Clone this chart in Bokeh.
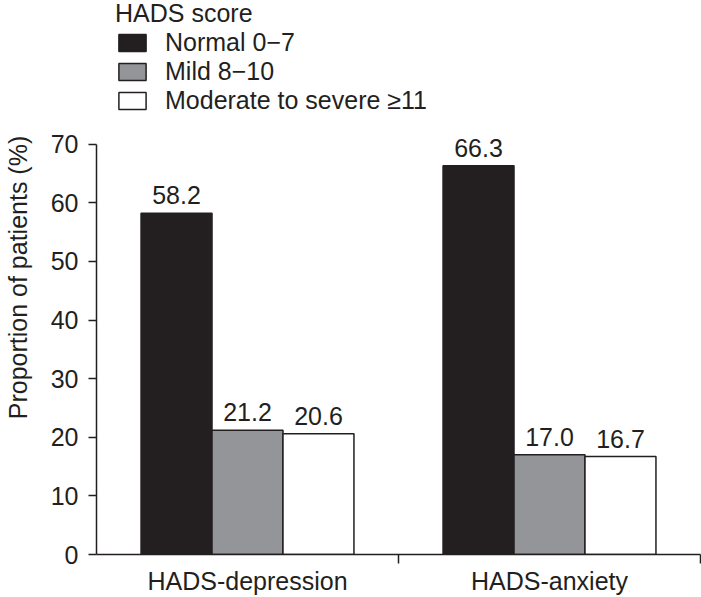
from bokeh.plotting import figure
from bokeh.models import (ColumnDataSource, Range1d, LinearAxis, FixedTicker, Legend,
                          LegendItem, LabelSet)
from bokeh.transform import dodge
from bokeh.core.properties import value
from bokeh.embed import file_html
from bokeh.resources import INLINE

# ---- data ----
categories = ["HADS-depression", "HADS-anxiety"]
normal = [58.2, 66.3]
mild = [21.2, 17.0]
severe = [20.6, 16.7]
series_labels = ["Normal 0\u22127", "Mild 8\u221210", "Moderate to severe \u226511"]
legend_title = "HADS score"
y_label = "Proportion of patients (%)"
y_ticks = [0, 10, 20, 30, 40, 50, 60, 70]

FONT = "Liberation Sans"
FS = "25px"
DARK = "#231f20"
fills = ["#231f20", "#939598", "#ffffff"]
W = 0.235

n = len(categories)
centers = [i + 0.5 for i in range(n)]   # category slot centres on the axis scale

src = ColumnDataSource(dict(
    x=centers,
    cat=categories,
    normal=normal, mild=mild, severe=severe,
    normal_t=[f"{v:.1f}" for v in normal],
    mild_t=[f"{v:.1f}" for v in mild],
    severe_t=[f"{v:.1f}" for v in severe],
))

p = figure(x_range=Range1d(0, n), y_range=Range1d(0, 94.5),
           width=701, height=597, output_backend="svg", toolbar_location=None,
           x_axis_type=None, min_border_left=93, min_border_right=1,
           min_border_top=0, min_border_bottom=42)
p.outline_line_color = None
p.grid.visible = False
p.background_fill_color = "white"
p.border_fill_color = "white"

xaxis = LinearAxis(ticker=FixedTicker(ticks=centers,
                                      minor_ticks=[i + 1 for i in range(n)]),
                   major_label_overrides={c: lab for c, lab in zip(centers, categories)})
xaxis.major_tick_out = 0
xaxis.major_tick_in = 0
xaxis.minor_tick_out = 9
xaxis.minor_tick_in = 0
xaxis.minor_tick_line_color = DARK
xaxis.minor_tick_line_width = 1.5
xaxis.axis_line_color = DARK
xaxis.axis_line_width = 1.5
xaxis.major_label_text_font = FONT
xaxis.major_label_text_font_size = FS
xaxis.major_label_text_color = DARK
xaxis.major_label_standoff = 3
p.add_layout(xaxis, "below")

ya = p.yaxis[0]
ya.ticker = FixedTicker(ticks=y_ticks)
ya.bounds = (0, 70)
ya.major_tick_out = 8
ya.major_tick_in = 0
ya.minor_tick_line_color = None
ya.major_tick_line_color = DARK
ya.major_tick_line_width = 1.5
ya.axis_line_color = DARK
ya.axis_line_width = 1.5
ya.major_label_text_font = FONT
ya.major_label_text_font_size = FS
ya.major_label_text_color = DARK
ya.major_label_standoff = 10
ya.axis_label = y_label
ya.axis_label_text_font = FONT
ya.axis_label_text_font_size = FS
ya.axis_label_text_font_style = "normal"
ya.axis_label_text_color = DARK
ya.axis_label_standoff = 16

renderers = []
for off, col, fill, tcol in [(-W, "normal", fills[0], "normal_t"),
                             (0.0, "mild", fills[1], "mild_t"),
                             (W, "severe", fills[2], "severe_t")]:
    r = p.vbar(x=dodge("x", off), top=col, width=W, bottom=0,
               source=src, fill_color=fill, line_color=DARK, line_width=1.5)
    renderers.append(r)
    lbl = LabelSet(x=dodge("x", off), y=col, text=tcol, source=src,
                   text_align="center", text_baseline="alphabetic", y_offset=9,
                   text_font=value(FONT), text_font_size=FS, text_color=DARK)
    p.add_layout(lbl)

legend = Legend(items=[LegendItem(label=lab, renderers=[r]) for lab, r in zip(series_labels, renderers)],
                title=legend_title, location=(19, 439))
legend.padding = 0
legend.margin = 0
legend.border_line_color = None
legend.background_fill_alpha = 0
legend.glyph_width = 34
legend.glyph_height = 21
legend.label_standoff = 16
legend.spacing = 0
legend.title_standoff = 0
legend.label_text_font = FONT
legend.label_text_font_size = FS
legend.label_text_color = DARK
legend.title_text_font = FONT
legend.title_text_font_size = FS
legend.title_text_font_style = "normal"
legend.title_text_color = DARK
p.add_layout(legend)

open("out.html", "w").write(file_html(p, INLINE))
